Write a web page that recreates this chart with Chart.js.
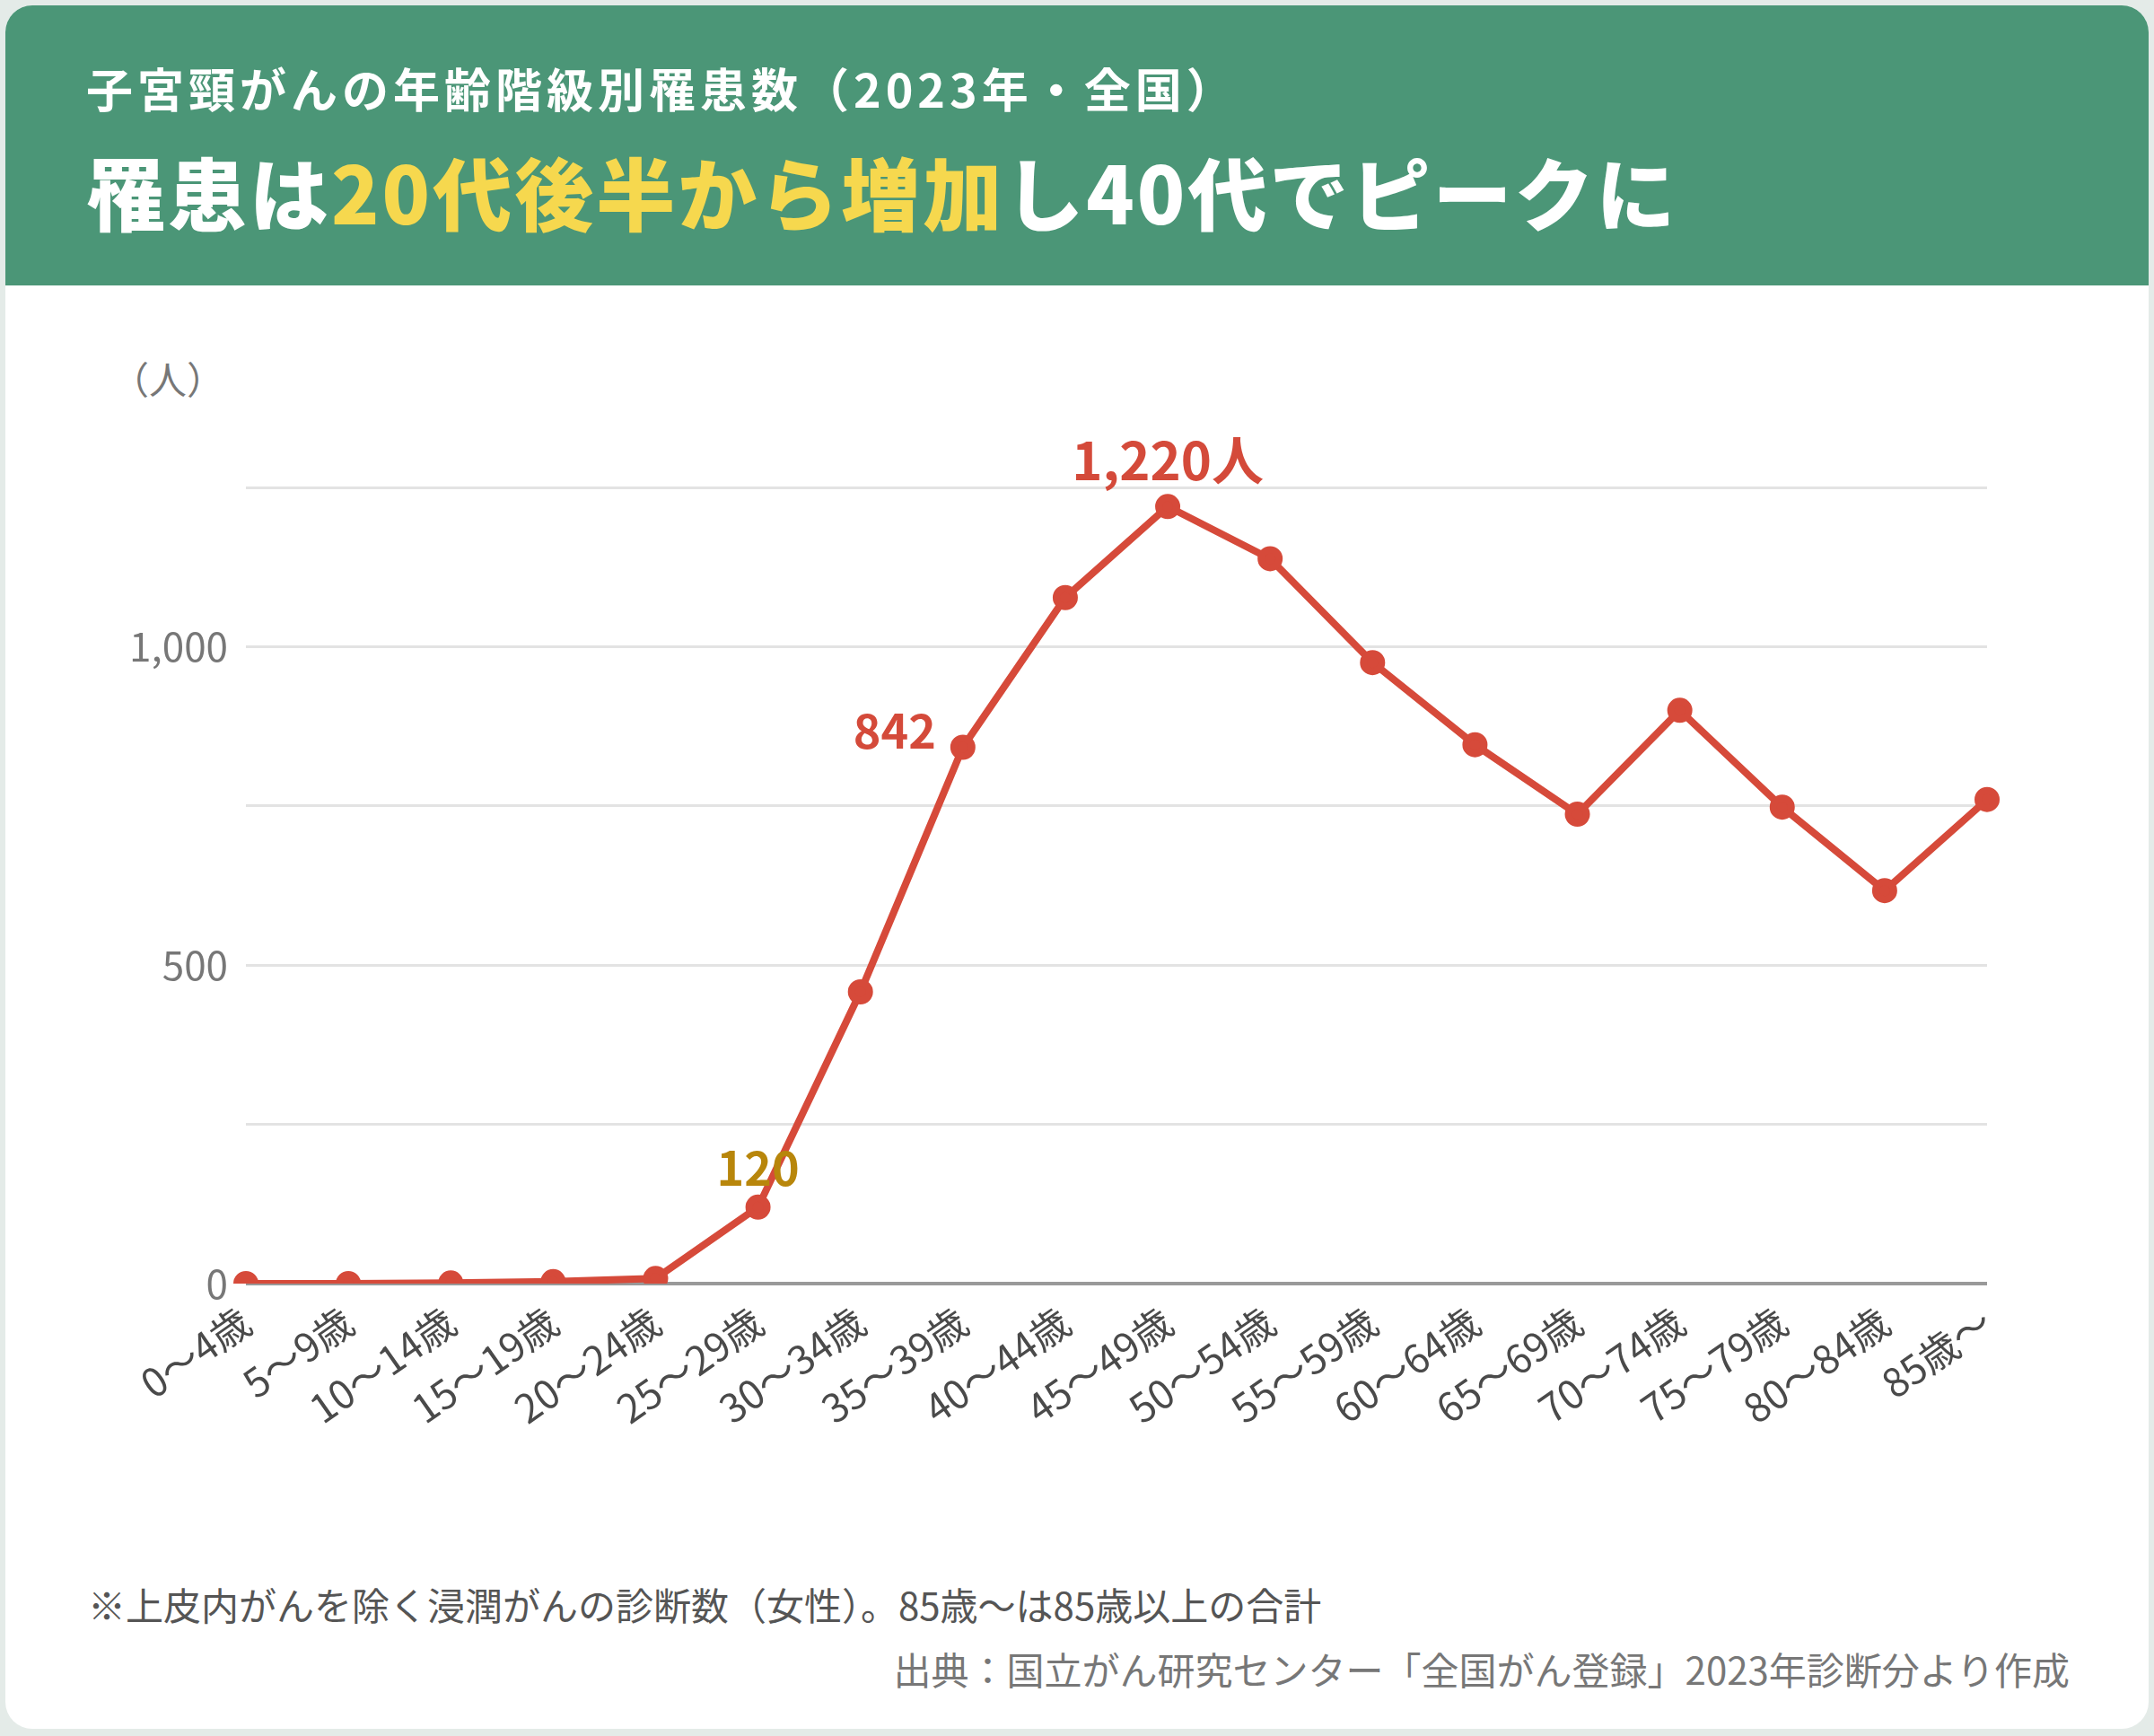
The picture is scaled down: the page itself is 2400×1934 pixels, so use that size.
<!DOCTYPE html>
<html lang="ja">
<head>
<meta charset="utf-8">
<script src="https://cdn.jsdelivr.net/npm/chart.js@4"></script>
<style>
  body { margin: 0; background: #e4ebe8; font-family: "Noto Sans CJK JP", "Noto Sans", sans-serif; }
  #card { position: absolute; left: 6px; top: 6px; width: 2388px; height: 1920px; background: #fff; border-radius: 30px; overflow: hidden; }
  #head { position: absolute; left: 0; top: 0; width: 100%; height: 312px; background: #4b9677; }
  #sub { position: absolute; left: 90px; top: 54px; color: #fff; font-size: 52px; font-weight: 700; letter-spacing: 5px; }
  #title { position: absolute; left: 90px; top: 142px; color: #fff; font-size: 88px; font-weight: 900; letter-spacing: 3px; }
  #title span { color: #f6d84e; }
  #unit { position: absolute; left: 118px; top: 384px; color: #777; font-size: 42px; }
  #chartbox { position: absolute; left: 0; top: 324px; width: 2388px; height: 1400px; }
  #note { position: absolute; left: 92px; top: 1750px; color: #555; font-size: 42px; }
  #src { position: absolute; right: 88px; top: 1822px; color: #777; font-size: 42px; }
</style>
</head>
<body>
<div id="card">
  <div id="head">
    <div id="sub">子宮頸がんの年齢階級別罹患数（2023年・全国）</div>
    <div id="title">罹患は<span>20代後半から増加</span>し40代でピークに</div>
  </div>
  <div id="unit">（人）</div>
  <div id="chartbox"><canvas id="grafico" width="2388" height="1400"></canvas></div>
  <div id="note">※上皮内がんを除く浸潤がんの診断数（女性）。85歳〜は85歳以上の合計</div>
  <div id="src">出典：国立がん研究センター「全国がん登録」2023年診断分より作成</div>
</div>
<script>
const edades = ['0〜4歳','5〜9歳','10〜14歳','15〜19歳','20〜24歳','25〜29歳','30〜34歳','35〜39歳','40〜44歳','45〜49歳','50〜54歳','55〜59歳','60〜64歳','65〜69歳','70〜74歳','75〜79歳','80〜84歳','85歳〜'];
const casos = [0, 0, 1, 3, 8, 120, 458, 842, 1077, 1220, 1138, 975, 846, 737, 900, 748, 617, 760];
const etiquetasY = [0, 500, 1000];
// etiquetas sobre puntos: indice, texto, color, desplazamiento
const anotaciones = [
  { i: 5, texto: '120', color: '#b8860b', dx: 0, dy: -38, align: 'center' },
  { i: 7, texto: '842', color: '#d44a3a', dx: -30, dy: -12, align: 'right' },
  { i: 9, texto: '1,220人', color: '#d44a3a', dx: 0, dy: -42, align: 'center', size: 58 }
];

const pluginEtiquetas = {
  id: 'etiquetas',
  afterDatasetsDraw(c) {
    const ctx = c.ctx;
    const meta = c.getDatasetMeta(0);
    anotaciones.forEach(a => {
      const p = meta.data[a.i];
      ctx.save();
      ctx.font = `700 ${a.size || 52}px "Noto Sans CJK JP", sans-serif`;
      ctx.fillStyle = a.color;
      ctx.textAlign = a.align;
      ctx.textBaseline = 'bottom';
      ctx.fillText(a.texto, p.x + a.dx, p.y + a.dy + 20);
      ctx.restore();
    });
  }
};

const ctx = document.getElementById('grafico').getContext('2d');
new Chart(ctx, {
  type: 'line',
  data: {
    labels: edades,
    datasets: [{
      data: casos,
      borderColor: '#d64a3a',
      backgroundColor: '#d64a3a',
      borderWidth: 8,
      pointRadius: 10,
      pointHoverRadius: 10,
      tension: 0,
      fill: false
    }]
  },
  options: {
    responsive: false,
    animation: false,
    layout: { padding: { top: 213, right: 180, bottom: 0, left: 0 } },
    plugins: { legend: { display: false }, tooltip: { enabled: false } },
    scales: {
      x: {
        offset: false,
        grid: { display: false },
        border: { display: false },
        afterFit(s) { s.height = 300; },
        ticks: {
          color: '#4a4a4a', font: { size: 44, family: '"Noto Sans CJK JP", sans-serif' },
          minRotation: 35, maxRotation: 35, autoSkip: false, padding: 8
        }
      },
      y: {
        min: 0, max: 1250,
        afterFit(s) { s.width = 268; },
        border: { display: false },
        grid: {
          color: c => c.tick.value === 0 ? '#999' : '#e3e3e3',
          lineWidth: c => c.tick.value === 0 ? 4 : 3,
          drawTicks: false
        },
        ticks: {
          stepSize: 250, color: '#777', padding: 20,
          font: { size: 44, family: '"Noto Sans CJK JP", sans-serif' },
          callback: v => etiquetasY.includes(v) ? v.toLocaleString('en-US') : ''
        }
      }
    }
  },
  plugins: [pluginEtiquetas]
});
</script>
</body>
</html>
